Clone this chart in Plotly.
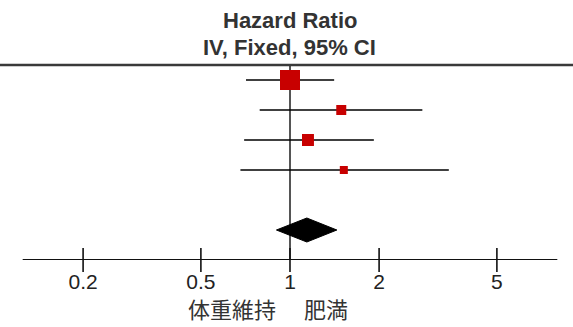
import math
import plotly.graph_objects as go

# ---- data ----
rows = [0, 1, 2, 3]
hr = [1.00, 1.49, 1.15, 1.52]
ci_low = [0.71, 0.79, 0.70, 0.68]
ci_high = [1.41, 2.80, 1.92, 3.44]
weights = [56.5, 14.1, 20.3, 9.1]

pooled_row = 5
pooled_hr = 1.14
pooled_low = 0.90
pooled_high = 1.44

tick_vals = [0.2, 0.5, 1, 2, 5]
tick_text = ["0.2", "0.5", "1", "2", "5"]
axis_min, axis_max = 0.125, 8
title_lines = ["Hazard Ratio", "IV, Fixed, 95% CI"]
left_label = "体重維持"
right_label = "肥満"

axis_row = 6
top_row = -0.5

fig = go.Figure()

# CI lines
for r, lo, hi in zip(rows, ci_low, ci_high):
    fig.add_trace(go.Scatter(x=[lo, hi], y=[r, r], mode="lines",
                             line=dict(color="#000000", width=1.7),
                             hoverinfo="skip", showlegend=False))

# squares sized by weight (area proportional to weight)
wmax = max(weights)
sizes = [20 * math.sqrt(w / wmax) for w in weights]
fig.add_trace(go.Scatter(x=hr, y=rows, mode="markers",
                         marker=dict(symbol="square", size=sizes, color="#C80000",
                                     opacity=1, line=dict(width=0)),
                         showlegend=False))

# pooled diamond
fig.add_trace(go.Scatter(
    x=[pooled_low, pooled_hr, pooled_high, pooled_hr, pooled_low],
    y=[pooled_row, pooled_row - 0.4, pooled_row, pooled_row + 0.4, pooled_row],
    mode="lines", fill="toself", fillcolor="black",
    line=dict(color="black", width=1), showlegend=False))

# crossing tick marks
fig.add_trace(go.Scatter(x=tick_vals, y=[axis_row] * len(tick_vals), mode="markers",
                         marker=dict(symbol="line-ns", size=17,
                                     line=dict(color="#111111", width=1.6)),
                         cliponaxis=False, showlegend=False))

shapes = [
    # axis line
    dict(type="line", xref="x", yref="y", x0=axis_min, x1=axis_max,
         y0=axis_row, y1=axis_row, line=dict(color="#111111", width=2)),
    # top rule
    dict(type="line", xref="paper", yref="y", x0=0, x1=1,
         y0=top_row, y1=top_row, line=dict(color="#3a3a3a", width=2.5)),
    # line of no effect
    dict(type="line", xref="x", yref="y", x0=1, x1=1, layer="below",
         y0=top_row, y1=axis_row, line=dict(color="#555555", width=2)),
]

title_font = dict(family="Liberation Sans, Arial", size=22, color="#333333")
cjk_font = dict(family="Noto Sans CJK JP", size=22, color="#333333")
annotations = [
    dict(text="<b>%s</b>" % title_lines[0], xref="x", yref="paper", x=0, y=0.923,
         yanchor="middle", showarrow=False, font=title_font),
    dict(text="<b>%s</b>" % title_lines[1], xref="x", yref="paper", x=0, y=0.819,
         yanchor="middle", showarrow=False, font=title_font),
    dict(text=left_label, xref="x", yref="paper", x=0, xanchor="right", xshift=-12,
         y=-0.185, yanchor="middle", showarrow=False, font=cjk_font),
    dict(text=right_label, xref="x", yref="paper", x=0, xanchor="left", xshift=12,
         y=-0.185, yanchor="middle", showarrow=False, font=cjk_font),
]

fig.update_layout(
    width=573, height=327,
    margin=dict(l=0, r=0, t=0, b=67),
    paper_bgcolor="white", plot_bgcolor="white",
    shapes=shapes, annotations=annotations,
    xaxis=dict(type="log", range=[-0.9797, 0.9561], tickvals=tick_vals, ticktext=tick_text,
               showgrid=False, zeroline=False, showline=False,
               ticks="outside", ticklen=3, tickcolor="rgba(0,0,0,0)",
               tickfont=dict(family="Liberation Sans, Arial", size=21, color="#222222")),
    yaxis=dict(range=[axis_row, -2.6667], visible=False, showgrid=False, zeroline=False),
    showlegend=False,
)

fig.write_html("out.html")
